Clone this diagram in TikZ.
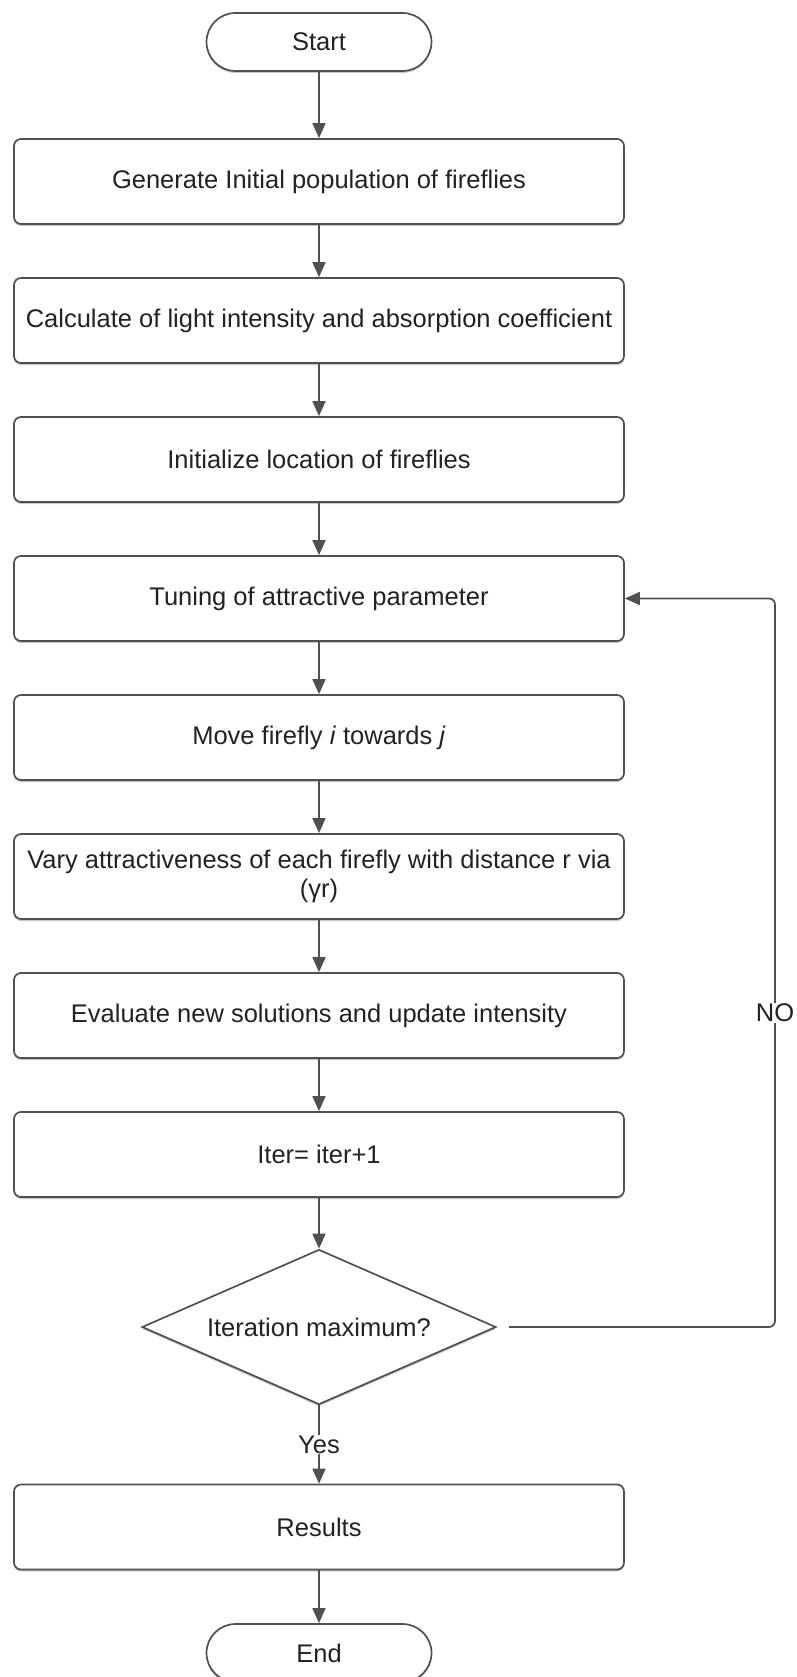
\documentclass[tikz,border=0pt]{standalone}
\usepackage{fontspec}
\setmainfont{Liberation Sans}
\usetikzlibrary{arrows.meta,shapes.geometric,shapes.misc,shadows}

\definecolor{edge}{HTML}{505050}
\definecolor{ink}{HTML}{222222}

\tikzset{
  base/.style={draw=edge, line width=1.7pt, fill=white, text=ink,
    font=\fontsize{25.5}{29}\selectfont, align=center, inner sep=0pt,
    drop shadow={shadow xshift=0pt, shadow yshift=-2pt, fill=black!22, opacity=1}},
  procbox/.style={base, rectangle, rounded corners=7pt,
    minimum width=610pt, minimum height=85pt},
  termbox/.style={base, rounded rectangle, minimum width=225pt, minimum height=58pt},
  decbox/.style={base, diamond, minimum width=354pt, minimum height=155pt, aspect=2.3},
  flow/.style={draw=edge, line width=1.7pt, -{Triangle[length=15pt,width=13pt]}},
  lbl/.style={fill=white, text=ink, font=\fontsize{25.5}{29}\selectfont, inner sep=1pt}
}

\begin{document}
\begin{tikzpicture}[x=1pt,y=1pt]
  \useasboundingbox (0,0) rectangle (796,-1677);

  % terminators, process steps and the decision
  \node[termbox] (start) at (319,-42)   {Start};
  \node[procbox] (gen)   at (319,-181.5) {Generate Initial population of fireflies};
  \node[procbox] (calc)  at (319,-320.5) {Calculate of light intensity and absorption coefficient};
  \node[procbox] (init)  at (319,-459.5) {Initialize location of fireflies};
  \node[procbox] (tune)  at (319,-598.5) {Tuning of attractive parameter};
  \node[procbox] (move)  at (319,-737.5) {Move firefly \textit{i} towards \textit{j}};
  \node[procbox] (vary)  at (319,-876.5) {Vary attractiveness of each firefly with distance r via\\(γr)};
  \node[procbox] (eval)  at (319,-1015.5) {Evaluate new solutions and update intensity};
  \node[procbox] (iter)  at (319,-1154.5) {Iter= iter+1};
  \node[decbox]  (dec)   at (319,-1327) {Iteration maximum?};
  \node[procbox] (res)   at (319,-1527) {Results};
  \node[termbox] (stop)  at (319,-1653) {End};

  % main sequence
  \draw[flow] (start) -- (gen);
  \draw[flow] (gen) -- (calc);
  \draw[flow] (calc) -- (init);
  \draw[flow] (init) -- (tune);
  \draw[flow] (tune) -- (move);
  \draw[flow] (move) -- (vary);
  \draw[flow] (vary) -- (eval);
  \draw[flow] (eval) -- (iter);
  \draw[flow] (iter) -- (dec);
  \draw[flow] (dec) -- node[lbl] (yes) {Yes} (res);
  \draw[flow] (res) -- (stop);

  % loop back when the maximum is not reached
  \coordinate (loopbot) at (775,-1327);
  \coordinate (looptop) at (775,-598.5);
  \draw[flow, rounded corners=6pt, shorten <=12pt]
    (dec.east) -- (loopbot) -- (looptop) -- (tune.east);
  \node[lbl] (no) at (775,-1013) {NO};
\end{tikzpicture}
\end{document}
